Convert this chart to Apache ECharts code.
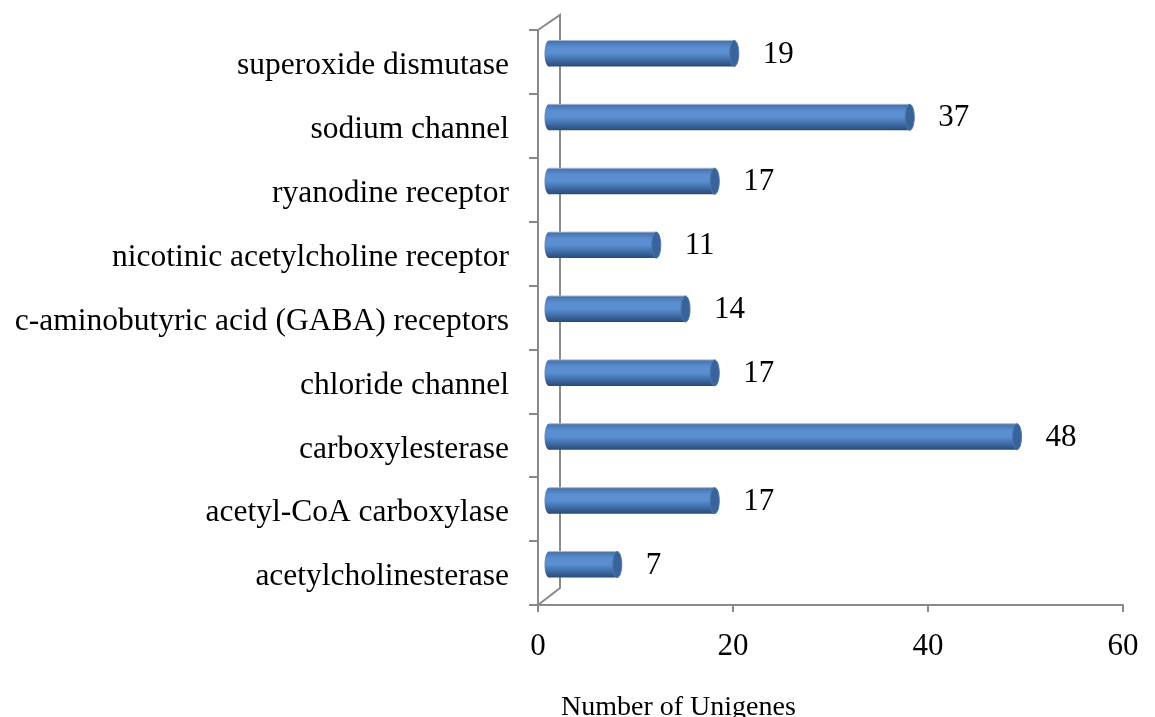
<!DOCTYPE html>
<html lang="en">
<head>
    <meta charset="UTF-8">
    <title>Number of Unigenes</title>
    <script src="https://cdn.jsdelivr.net/npm/echarts@6/dist/echarts.min.js"></script>
    <style type="text/css">
        html, body {
            margin: 0;
            padding: 0;
            background: #ffffff;
        }

        #chart {
            width: 1155px;
            height: 717px;
        }
    </style>
</head>
<body>

<div id="chart"></div>

<script>
    // categories, bottom to top
    var categories = [
        'acetylcholinesterase',
        'acetyl-CoA carboxylase',
        'carboxylesterase',
        'chloride channel',
        'c-aminobutyric acid (GABA) receptors',
        'nicotinic acetylcholine receptor',
        'ryanodine receptor',
        'sodium channel',
        'superoxide dismutase'
    ];
    var unigenes = [7, 17, 48, 17, 14, 11, 17, 37, 19];
    var xTicks = [0, 20, 40, 60];

    var FONT = '"Liberation Serif", "Times New Roman", serif';
    var AXIS_GREY = '#8a8a8a';

    var chart = echarts.init(document.getElementById('chart'));

    var barFill = new echarts.graphic.LinearGradient(0, 0, 0, 1, [
        {offset: 0, color: '#456fa8'},
        {offset: 0.25, color: '#5a8ed0'},
        {offset: 0.5, color: '#5a8fd1'},
        {offset: 0.8, color: '#3b679f'},
        {offset: 1, color: '#2a4a78'}
    ]);

    // cylinder bar, pushed back into the 3d depth a little
    function renderCylinder(params, api) {
        var value = api.value(0);
        var start = api.coord([0, api.value(1)]);
        var end = api.coord([value, api.value(1)]);
        var dx = 11, dy = -8.5, h = 26, rx = 4.5;
        var cy = start[1] + dy;
        var x0 = start[0] + dx;
        var x1 = end[0] + dx;
        return {
            type: 'group',
            children: [
                {
                    type: 'ellipse',
                    shape: {cx: x0, cy: cy, rx: rx, ry: h / 2},
                    style: {fill: barFill}
                },
                {
                    type: 'rect',
                    shape: {x: x0, y: cy - h / 2, width: x1 - x0, height: h},
                    style: {fill: barFill}
                },
                {
                    type: 'line',
                    shape: {x1: x0, y1: cy - h / 2, x2: x1, y2: cy - h / 2},
                    style: {stroke: '#a3b6d2', lineWidth: 1}
                },
                {
                    type: 'ellipse',
                    shape: {cx: x1, cy: cy, rx: rx, ry: h / 2},
                    style: {fill: '#3a6399', stroke: '#4a78b4', lineWidth: 1}
                },
                {
                    type: 'text',
                    style: {
                        x: x1 + rx + 24,
                        y: cy + 1,
                        text: String(value),
                        fill: '#000000',
                        font: '31px ' + FONT,
                        verticalAlign: 'middle',
                        align: 'left'
                    }
                }
            ]
        };
    }

    var option = {
        animation: false,
        backgroundColor: '#ffffff',
        grid: {
            left: 538,
            right: 32,
            top: 30,
            bottom: 112
        },
        xAxis: {
            type: 'value',
            min: xTicks[0],
            max: xTicks[xTicks.length - 1],
            interval: 20,
            splitLine: {show: false},
            axisLine: {show: true, lineStyle: {color: AXIS_GREY, width: 2}},
            axisTick: {show: true, length: 7, lineStyle: {color: AXIS_GREY, width: 2}},
            axisLabel: {
                margin: 26,
                color: '#000000',
                fontFamily: FONT,
                fontSize: 31
            }
        },
        yAxis: {
            type: 'category',
            data: categories,
            axisLine: {show: true, lineStyle: {color: AXIS_GREY, width: 2}},
            axisTick: {show: true, length: 9, lineStyle: {color: AXIS_GREY, width: 2}},
            axisLabel: {
                margin: 29,
                formatter: '{c|{value}}',
                rich: {
                    c: {
                        padding: [8, 0, 0, 0],
                        color: '#000000',
                        fontFamily: FONT,
                        fontSize: 31.5
                    }
                }
            }
        },
        title: {
            text: 'Number of Unigenes',
            left: 556,
            top: 689,
            textStyle: {
                color: '#000000',
                fontFamily: FONT,
                fontSize: 28,
                fontWeight: 'normal'
            }
        },
        graphic: [
            {
                // back wall edge of the 3d frame
                type: 'polyline',
                z: -1,
                shape: {points: [[538, 30], [560, 15], [560, 588], [538, 605]]},
                style: {stroke: AXIS_GREY, lineWidth: 2, fill: null}
            }
        ],
        series: [{
            type: 'custom',
            renderItem: renderCylinder,
            encode: {x: 0, y: 1},
            data: unigenes.map(function (v, i) {
                return [v, i];
            })
        }]
    };

    chart.setOption(option);
</script>

</body>
</html>
